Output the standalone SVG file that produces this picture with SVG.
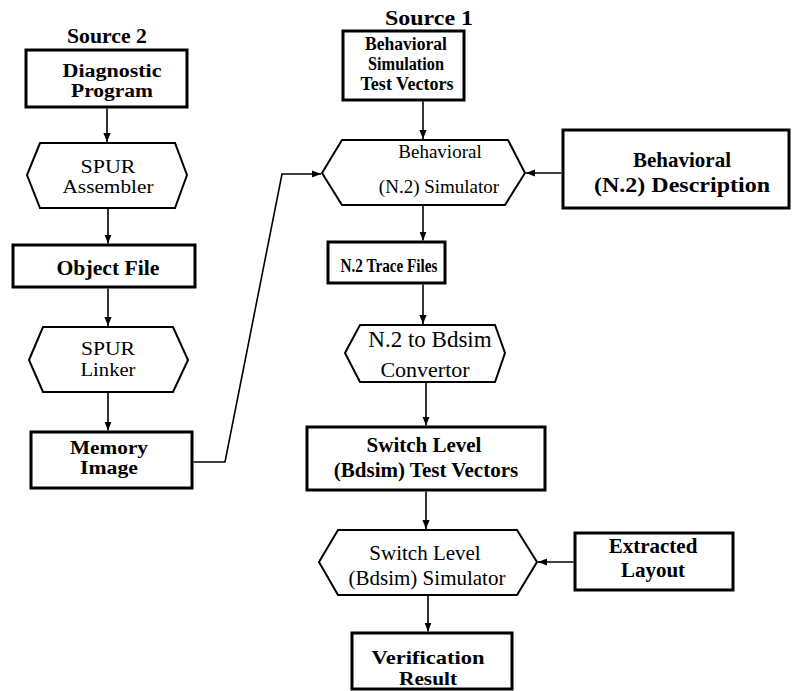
<svg xmlns="http://www.w3.org/2000/svg" width="792" height="691" viewBox="0 0 792 691">
  <style>
    .box{fill:#fff;stroke:#000;stroke-width:3}
    .hex{fill:#fff;stroke:#000;stroke-width:2}
    .b{font-family:"Liberation Serif","Times New Roman",serif;font-weight:bold;text-anchor:middle;fill:#000}
    .r{font-family:"Liberation Serif","Times New Roman",serif;text-anchor:middle;fill:#000}
    .wire{fill:none;stroke:#000;stroke-width:1.6;marker-end:url(#ah)}
  </style>
  <defs>
    <marker id="ah" viewBox="0 0 10 8" refX="10" refY="4" markerWidth="9" markerHeight="8" markerUnits="userSpaceOnUse" orient="auto">
      <path d="M0,0 L10,4 L0,8 z" fill="#000"/>
    </marker>
  </defs>
  <rect width="792" height="691" fill="#fff"/>

  <!-- connectors -->
  <g id="connectors">
    <path class="wire" d="M107,108.5 V142"/>
    <path class="wire" d="M108,209 V243.5"/>
    <path class="wire" d="M108,288.5 V326"/>
    <path class="wire" d="M108,393 V430.5"/>
    <path class="wire" d="M193.5,462 H225 L282,174 H321"/>
    <path class="wire" d="M423,101.5 V139"/>
    <path class="wire" d="M561.5,173 H526"/>
    <path class="wire" d="M423,206 V240.5"/>
    <path class="wire" d="M423,284.5 V324"/>
    <path class="wire" d="M426,383 V425.5"/>
    <path class="wire" d="M426,491.5 V529"/>
    <path class="wire" d="M573.5,562 H538"/>
    <path class="wire" d="M428,596 V631.5"/>
  </g>

  <!-- source headings -->
  <g id="source2"><text class="b" x="107" y="43" style="font-size:21px" textLength="80" lengthAdjust="spacingAndGlyphs">Source 2</text></g>
  <g id="source1"><text class="b" x="429" y="25" style="font-size:22px" textLength="88" lengthAdjust="spacingAndGlyphs">Source 1</text></g>

  <!-- left chain: program build -->
  <g id="diagnostic">
    <rect class="box" x="26" y="50" width="161" height="57"/>
    <text class="b" x="112" y="77" style="font-size:18px" textLength="99" lengthAdjust="spacingAndGlyphs">Diagnostic</text>
    <text class="b" x="112" y="97" style="font-size:18px" textLength="82" lengthAdjust="spacingAndGlyphs">Program</text>
  </g>
  <g id="assembler">
    <polygon class="hex" points="27,175 40,143 175,143 187,175 175,208 40,208"/>
    <text class="r" x="108" y="173" style="font-size:18px" textLength="55" lengthAdjust="spacingAndGlyphs">SPUR</text>
    <text class="r" x="108" y="193" style="font-size:18px" textLength="91" lengthAdjust="spacingAndGlyphs">Assembler</text>
  </g>
  <g id="objectfile">
    <rect class="box" x="13" y="245" width="182" height="42"/>
    <text class="b" x="108" y="275" style="font-size:20px" textLength="103" lengthAdjust="spacingAndGlyphs">Object File</text>
  </g>
  <g id="linker">
    <polygon class="hex" points="29,360 43,327 173,327 188,360 173,392 43,392"/>
    <text class="r" x="108" y="355" style="font-size:18px" textLength="54" lengthAdjust="spacingAndGlyphs">SPUR</text>
    <text class="r" x="108" y="376" style="font-size:18px" textLength="55" lengthAdjust="spacingAndGlyphs">Linker</text>
  </g>
  <g id="memory">
    <rect class="box" x="31" y="432" width="161" height="56"/>
    <text class="b" x="109" y="454" style="font-size:18px" textLength="78" lengthAdjust="spacingAndGlyphs">Memory</text>
    <text class="b" x="109" y="474" style="font-size:18px" textLength="58" lengthAdjust="spacingAndGlyphs">Image</text>
  </g>

  <!-- right chain: simulation flow -->
  <g id="behvectors">
    <rect class="box" x="343" y="31" width="121" height="69"/>
    <text class="b" x="406" y="50" style="font-size:18px" textLength="82" lengthAdjust="spacingAndGlyphs">Behavioral</text>
    <text class="b" x="406" y="70" style="font-size:18px" textLength="76" lengthAdjust="spacingAndGlyphs">Simulation</text>
    <text class="b" x="407" y="90" style="font-size:18px" textLength="93" lengthAdjust="spacingAndGlyphs">Test Vectors</text>
  </g>
  <g id="behsim">
    <polygon class="hex" points="322,173 342,140 508,140 525,173 505,205 342,205"/>
    <text class="r" x="440" y="158" style="font-size:19px">Behavioral</text>
    <text class="r" x="439" y="193" style="font-size:19px">(N.2) Simulator</text>
  </g>
  <g id="behdesc">
    <rect class="box" x="563" y="130" width="226" height="78"/>
    <text class="b" x="682" y="167" style="font-size:21px">Behavioral</text>
    <text class="b" x="682" y="192" style="font-size:21px" textLength="176" lengthAdjust="spacingAndGlyphs">(N.2) Description</text>
  </g>
  <g id="tracefiles">
    <rect class="box" x="328" y="242" width="117" height="41"/>
    <text class="b" x="389" y="272" style="font-size:18px" textLength="97" lengthAdjust="spacingAndGlyphs">N.2 Trace Files</text>
  </g>
  <g id="convertor">
    <polygon class="hex" points="345,353 360,325 495,325 505,353 495,382 360,382"/>
    <text class="r" x="430" y="347" style="font-size:23px">N.2 to Bdsim</text>
    <text class="r" x="425" y="377" style="font-size:22px">Convertor</text>
  </g>
  <g id="swvectors">
    <rect class="box" x="307" y="427" width="238" height="63"/>
    <text class="b" x="424" y="452" style="font-size:21px">Switch Level</text>
    <text class="b" x="426" y="477" style="font-size:21px">(Bdsim) Test Vectors</text>
  </g>
  <g id="swsim">
    <polygon class="hex" points="319,562 338,530 517,530 537,562 517,595 338,595"/>
    <text class="r" x="425" y="560" style="font-size:21px">Switch Level</text>
    <text class="r" x="427" y="585" style="font-size:21px">(Bdsim) Simulator</text>
  </g>
  <g id="layout">
    <rect class="box" x="575" y="533" width="158" height="57"/>
    <text class="b" x="653" y="553" style="font-size:21px">Extracted</text>
    <text class="b" x="653" y="577" style="font-size:21px">Layout</text>
  </g>
  <g id="verification">
    <rect class="box" x="352" y="633" width="160" height="56"/>
    <text class="b" x="428" y="664" style="font-size:19px" textLength="113" lengthAdjust="spacingAndGlyphs">Verification</text>
    <text class="b" x="428" y="685" style="font-size:19px" textLength="58" lengthAdjust="spacingAndGlyphs">Result</text>
  </g>
</svg>
